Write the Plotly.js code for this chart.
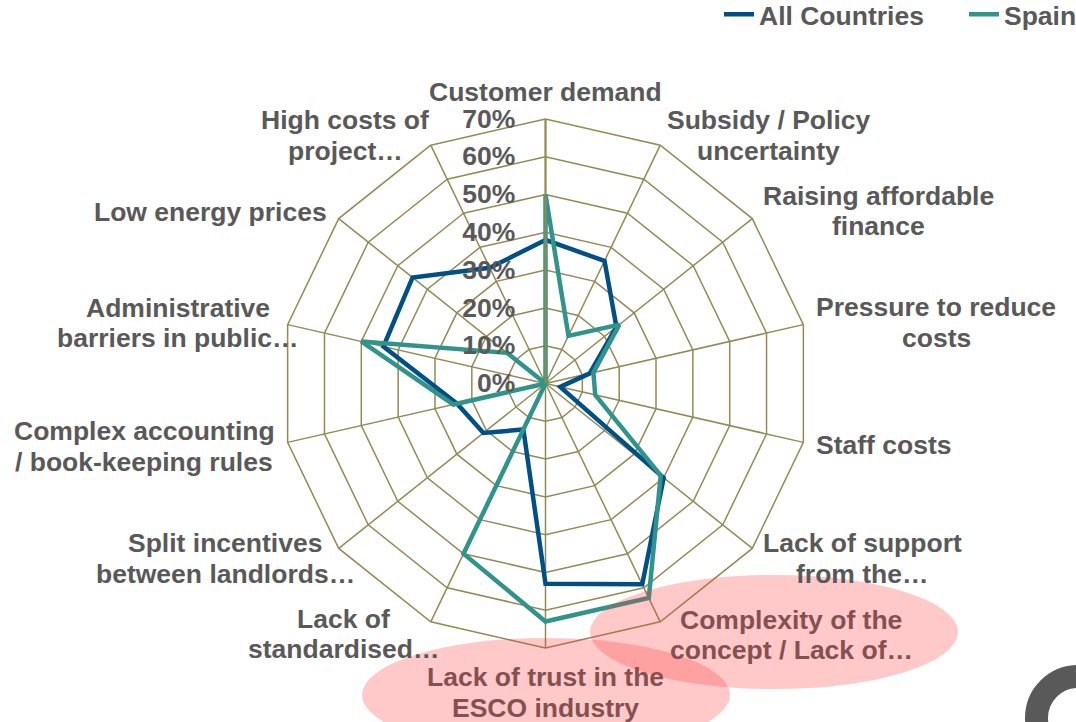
<!DOCTYPE html>
<html>
<head>
<meta charset="utf-8">
<script src="https://cdn.plot.ly/plotly-3.0.1.min.js"></script>
<style>
  html, body { margin: 0; padding: 0; background: #ffffff; }
  #chart { width: 1076px; height: 722px; }
</style>
</head>
<body>
<div id="chart"></div>
<script>
// ---- data ----
const categories = [
  "Customer demand",
  "Subsidy / Policy uncertainty",
  "Raising affordable finance",
  "Pressure to reduce costs",
  "Staff costs",
  "Lack of support from the…",
  "Complexity of the concept / Lack of…",
  "Lack of trust in the ESCO industry",
  "Lack of standardised…",
  "Split incentives between landlords…",
  "Complex accounting / book-keeping rules",
  "Administrative barriers in public…",
  "Low energy prices",
  "High costs of project…"
];
const tickLabels = [
  "Customer demand",
  "Subsidy / Policy<br>uncertainty",
  "Raising affordable<br>finance",
  "Pressure to reduce<br>costs",
  "Staff costs",
  "Lack of support<br>from the…",
  "Complexity of the<br>concept / Lack of…",
  "Lack of trust in the<br>ESCO industry",
  "Lack of<br>standardised…",
  "Split incentives<br>between landlords…",
  "Complex accounting<br>/ book-keeping rules",
  "Administrative<br>barriers in public…",
  "Low energy prices",
  "High costs of<br>project…"
];
const allCountries = [38, 36, 24, 12, 4, 40, 59, 53, 13.5, 21, 24, 44, 45, 34];
const spain        = [50, 14, 25, 13, 13.5, 39, 63, 63, 50, 0, 25, 50, 13, 0];
const seriesNames = ["All Countries", "Spain"];
const radialTicks = [0, 10, 20, 30, 40, 50, 60, 70];
const radialTickText = ["0%", "10%", "20%", "30%", "40%", "50%", "60%", "70%"];

// ---- layout positions (pixels) of the category label blocks ----
const labelCenters = [
  [545, 92], [768, 135.5], [878, 211], [936, 322.5], [883, 445],
  [862, 558.5], [791, 635], [545, 692.5], [343, 634], [225, 558.5],
  [144, 446.5], [178, 323], [210, 212], [345, 135.5]
];
// labels that sit under the translucent highlight ellipses
const highlighted = [6, 7];

// ---- style ----
const blue = "#004F86";
const teal = "#31948B";
const grid = "#948A54";
const textGray = "#595959";
const tintedGray = "rgb(134,80,80)";
const fontFam = "Liberation Sans, Arial, sans-serif";
const fs = 26.5;
const W = 1076, H = 722;
const lineStep = 30.5;

function closeLoop(a) { return a.concat([a[0]]); }

const traces = [
  { type: "scatterpolar", mode: "lines", name: seriesNames[0],
    theta: closeLoop(categories), r: closeLoop(allCountries),
    line: { color: blue, width: 4.5 }, hoverinfo: "skip" },
  { type: "scatterpolar", mode: "lines", name: seriesNames[1],
    theta: closeLoop(categories), r: closeLoop(spain),
    line: { color: teal, width: 4.5 }, hoverinfo: "skip" }
];

// pixel -> paper helpers (margins are zero, so paper == page)
const px = x => x / W;
const py = y => 1 - y / H;
function ellipse(cx, cy, rx, ry, fill) {
  return { type: "circle", xref: "paper", yref: "paper", layer: "above",
    x0: px(cx - rx), x1: px(cx + rx), y0: py(cy + ry), y1: py(cy - ry),
    fillcolor: fill, line: { width: 0 } };
}

const annotations = [];
tickLabels.forEach((lbl, i) => {
  const lines = lbl.split("<br>");
  const n = lines.length;
  lines.forEach((t, j) => {
    annotations.push({
      xref: "paper", yref: "paper", showarrow: false,
      x: px(labelCenters[i][0]),
      y: py(labelCenters[i][1] + (j - (n - 1) / 2) * lineStep),
      xanchor: "center", yanchor: "middle",
      text: t,
      font: { family: fontFam, size: fs, weight: "bold",
              color: highlighted.includes(i) ? tintedGray : textGray }
    });
  });
});

const cx = 545.5, cy = 383.5, R = 264.5;

const layout = {
  width: W, height: H, autosize: false,
  margin: { l: 0, r: 0, t: 0, b: 0, pad: 0, autoexpand: false },
  paper_bgcolor: "#ffffff",
  font: { family: fontFam, color: textGray, size: fs, weight: "bold" },
  showlegend: true,
  legend: { orientation: "h", x: px(719), xanchor: "left", y: 1.013, yanchor: "top",
    entrywidth: 200, entrywidthmode: "pixels",
    font: { family: fontFam, color: textGray, size: fs, weight: "bold" },
    bgcolor: "rgba(0,0,0,0)" },
  polar: {
    domain: { x: [px(cx - R), px(cx + R)], y: [py(cy + R), py(cy - R)] },
    bgcolor: "#ffffff",
    gridshape: "linear",
    angularaxis: {
      type: "category",
      direction: "clockwise", rotation: 90,
      showticklabels: false,
      showline: true, linecolor: grid, linewidth: 1.5,
      showgrid: true, gridcolor: grid, gridwidth: 1.5,
      ticks: ""
    },
    radialaxis: {
      range: [0, 70], tickmode: "array", tickvals: radialTicks, ticktext: radialTickText,
      angle: 90, side: "counterclockwise", tickangle: 90,
      tickfont: { family: fontFam, color: textGray, size: fs, weight: "bold" },
      showline: true, linecolor: grid, linewidth: 2,
      showgrid: true, gridcolor: grid, gridwidth: 1.5,
      ticks: "outside", ticklen: 20, tickcolor: "rgba(0,0,0,0)"
    }
  },
  annotations: annotations,
  shapes: [
    ellipse(774, 632, 184, 57, "rgba(255,55,55,0.27)"),
    ellipse(546, 695, 184, 57, "rgba(255,55,55,0.27)"),
    { type: "circle", xref: "paper", yref: "paper", layer: "above",
      x0: px(1078 - 41.5), x1: px(1078 + 41.5), y0: py(718 + 41.5), y1: py(718 - 41.5),
      line: { color: "#595959", width: 23 }, fillcolor: "rgba(0,0,0,0)" }
  ]
};

Plotly.newPlot("chart", traces, layout, { staticPlot: true, displayModeBar: false });
</script>
</body>
</html>
